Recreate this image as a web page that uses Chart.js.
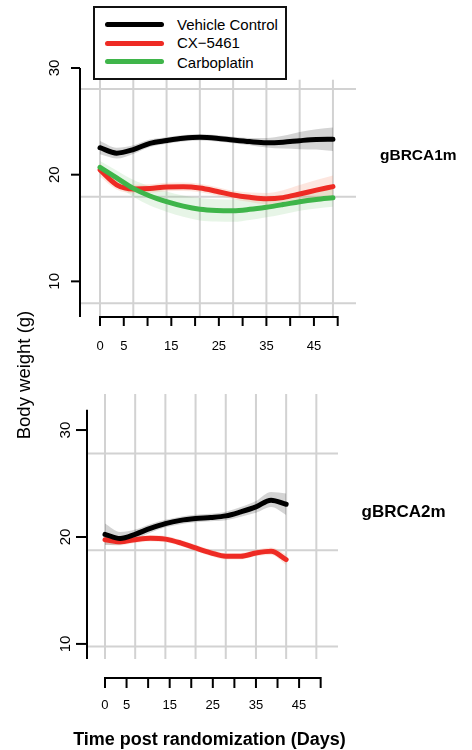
<!DOCTYPE html>
<html><head><meta charset="utf-8">
<script src="https://cdn.jsdelivr.net/npm/chart.js@4/dist/chart.umd.min.js"></script>
<style>
html,body{margin:0;padding:0;background:#fff;}
#wrap{position:relative;width:472px;height:750px;overflow:hidden;font-family:"Liberation Sans",Arial,sans-serif;color:#000;}
canvas{position:absolute;left:0;top:0;}
.t{position:absolute;white-space:nowrap;}
#legend{position:absolute;left:93px;top:6px;width:194px;height:74px;box-sizing:border-box;border:2px solid #111;background:#fff;}
.lg{position:absolute;left:105px;width:59px;height:5px;border-radius:3px;}
.lt{position:absolute;left:177px;font-size:15px;line-height:18px;}
</style></head><body>
<div id="wrap">
<canvas id="c1" width="472" height="750"></canvas>
<canvas id="c2" width="472" height="750"></canvas>
<div id="legend"></div>
<div class="lg" style="top:22px;background:#000"></div>
<div class="lg" style="top:40.5px;background:#ee2b24"></div>
<div class="lg" style="top:59px;background:#3fb54a"></div>
<div class="lt" style="top:16px">Vehicle Control</div>
<div class="lt" style="top:34px">CX−5461</div>
<div class="lt" style="top:53.5px">Carboplatin</div>
<div class="t" style="left:380px;top:145.7px;font-size:15.5px;line-height:18px;font-weight:bold">gBRCA1m</div>
<div class="t" style="left:361.5px;top:502px;font-size:17px;line-height:20px;font-weight:bold">gBRCA2m</div>
<div class="t" style="left:-76.5px;top:364px;width:200px;height:22px;line-height:22px;text-align:center;font-size:18.5px;transform:rotate(-90deg)">Body weight (g)</div>
<div class="t" style="left:0;width:419px;text-align:center;top:727.5px;font-size:18px;line-height:22px;font-weight:bold">Time post randomization (Days)</div>
</div>
<script>
// ---------- DATA ----------
const seriesNames = ['Vehicle Control', 'CX−5461', 'Carboplatin'];
const xTickValues = [0, 5, 10, 15, 20, 25, 30, 35, 40, 45, 50];
const xTickLabels = ['0', '5', '', '15', '', '25', '', '35', '', '45', ''];
const yTickValues = [10, 20, 30];
const gridDays = [0, 7, 14, 21, 28, 35, 42, 49];

// Panel 1: gBRCA1m
const daysA = [0, 3.5, 7, 10.5, 14, 17.5, 21, 24.5, 28, 31.5, 35, 38.5, 42, 45.5, 49];
const vehicleA   = [22.53, 22.02, 22.35, 22.94, 23.2, 23.41, 23.5, 23.42, 23.25, 23.1, 23.0, 23.05, 23.19, 23.3, 23.32];
const vehicleAHi = [23.15, 22.52, 22.75, 23.29, 23.5, 23.71, 23.8, 23.72, 23.55, 23.45, 23.45, 23.65, 24.0, 24.25, 24.42];
const vehicleALo = [21.91, 21.52, 21.95, 22.59, 22.9, 23.11, 23.2, 23.12, 22.95, 22.75, 22.55, 22.45, 22.39, 22.35, 22.22];
const cxA   = [20.44, 19.05, 18.66, 18.7, 18.85, 18.86, 18.75, 18.45, 18.1, 17.88, 17.74, 17.85, 18.19, 18.55, 18.88];
const cxAHi = [21.04, 19.5, 19.06, 19.1, 19.25, 19.26, 19.15, 18.85, 18.5, 18.33, 18.29, 18.55, 19.04, 19.5, 19.93];
const cxALo = [19.84, 18.6, 18.26, 18.3, 18.45, 18.46, 18.35, 18.05, 17.7, 17.43, 17.19, 17.15, 17.34, 17.6, 17.83];
const carboA   = [20.69, 19.7, 18.72, 18.0, 17.47, 17.05, 16.76, 16.65, 16.63, 16.75, 16.95, 17.2, 17.47, 17.68, 17.84];
const carboAHi = [21.29, 20.4, 19.52, 18.9, 18.42, 18.05, 17.81, 17.7, 17.68, 17.75, 17.9, 18.1, 18.32, 18.53, 18.69];
const carboALo = [20.09, 19.0, 17.92, 17.1, 16.52, 16.05, 15.71, 15.6, 15.58, 15.75, 16.0, 16.3, 16.62, 16.83, 16.99];
const hGridA = [28.04, 17.94, 7.95];

// Panel 2: gBRCA2m
const daysB = [0, 3.5, 7, 10.5, 14, 17.5, 21, 24.5, 28, 31.5, 35, 38.5, 42];
const vehicleB   = [20.25, 19.86, 20.25, 20.8, 21.25, 21.55, 21.72, 21.82, 21.97, 22.35, 22.81, 23.44, 23.06];
const vehicleBHi = [21.25, 20.46, 20.7, 21.2, 21.6, 21.9, 22.07, 22.17, 22.37, 22.8, 23.36, 24.2, 24.06];
const vehicleBLo = [19.25, 19.26, 19.8, 20.4, 20.9, 21.2, 21.37, 21.47, 21.57, 21.9, 22.26, 22.8, 22.06];
const cxB   = [19.75, 19.55, 19.75, 19.88, 19.8, 19.45, 18.97, 18.52, 18.19, 18.2, 18.5, 18.66, 17.88];
const cxBHi = [20.2, 19.9, 20.05, 20.18, 20.1, 19.75, 19.27, 18.82, 18.49, 18.5, 18.8, 19.01, 18.38];
const cxBLo = [19.3, 19.2, 19.45, 19.58, 19.5, 19.15, 18.67, 18.22, 17.89, 17.9, 18.2, 18.31, 17.38];
const hGridB = [27.8, 18.76, 9.75];

// ---------- STYLE ----------
const lineColors = ['#000000', '#ee2b24', '#3fb54a'];
const bandColors = ['rgba(0,0,0,0.17)', 'rgba(245,140,110,0.22)', 'rgba(110,195,110,0.17)'];
const FONT = '"Liberation Sans", Arial, sans-serif';

function pts(days, vals) { return days.map((d, i) => ({x: d, y: vals[i]})); }

function buildDatasets(days, groups) {
  const ds = [];
  groups.forEach((g, k) => {
    const base = ds.length;
    ds.push({label: seriesNames[g.s] + ' hi', data: pts(days, g.hi), borderWidth: 0, pointRadius: 0,
      fill: false, cubicInterpolationMode: 'monotone', order: 5});
    ds.push({label: seriesNames[g.s] + ' lo', data: pts(days, g.lo), borderWidth: 0, pointRadius: 0,
      fill: base, backgroundColor: bandColors[g.s], cubicInterpolationMode: 'monotone', order: 5});
    ds.push({label: seriesNames[g.s], data: pts(days, g.v), borderColor: lineColors[g.s], borderWidth: 5,
      borderCapStyle: 'round', borderJoinStyle: 'round', pointRadius: 0, fill: false,
      cubicInterpolationMode: 'monotone', order: g.order});
  });
  return ds;
}

function axesPlugin(o) {
  return {
    id: 'rAxes',
    beforeDatasetsDraw(chart) {
      const {ctx, chartArea: a} = chart, xs = chart.scales.x, ys = chart.scales.y;
      ctx.save();
      ctx.strokeStyle = '#d2d2d2'; ctx.lineWidth = 2;
      gridDays.forEach(d => {
        const px = xs.getPixelForValue(d);
        ctx.beginPath(); ctx.moveTo(px, ys.getPixelForValue(o.vGridTop)); ctx.lineTo(px, a.bottom); ctx.stroke();
      });
      o.hGrid.forEach(w => {
        const py = ys.getPixelForValue(w);
        ctx.beginPath(); ctx.moveTo(a.left, py); ctx.lineTo(a.right, py); ctx.stroke();
      });
      ctx.restore();
    },
    afterDatasetsDraw(chart) {
      const {ctx, chartArea: a} = chart, xs = chart.scales.x, ys = chart.scales.y;
      ctx.save();
      ctx.strokeStyle = '#000'; ctx.lineWidth = 2; ctx.lineCap = 'butt';
      // y axis
      ctx.beginPath(); ctx.moveTo(a.left, ys.getPixelForValue(o.yAxisTop)); ctx.lineTo(a.left, a.bottom); ctx.stroke();
      ctx.fillStyle = '#000';
      ctx.font = o.yFont + 'px ' + FONT; ctx.textAlign = 'center'; ctx.textBaseline = 'alphabetic';
      yTickValues.forEach(v => {
        const py = ys.getPixelForValue(v);
        ctx.beginPath(); ctx.moveTo(a.left - o.yTickLen, py); ctx.lineTo(a.left, py); ctx.stroke();
        ctx.save(); ctx.translate(o.yLabelX, py); ctx.rotate(-Math.PI / 2);
        ctx.fillText(String(v), 0, 0.358 * o.yFont); ctx.restore();
      });
      // x axis
      const ay = a.bottom + o.xAxisOffset;
      const x0 = xs.getPixelForValue(xTickValues[0]), x1 = xs.getPixelForValue(xTickValues[xTickValues.length - 1]);
      ctx.beginPath(); ctx.moveTo(x0, ay); ctx.lineTo(x1, ay); ctx.stroke();
      ctx.font = o.xFont + 'px ' + FONT;
      xTickValues.forEach((v, i) => {
        const px = xs.getPixelForValue(v);
        ctx.beginPath(); ctx.moveTo(px, ay - 1); ctx.lineTo(px, ay + o.xTickLen); ctx.stroke();
        if (xTickLabels[i]) ctx.fillText(xTickLabels[i], px, o.xLabelY + 0.358 * o.xFont);
      });
      ctx.restore();
    }
  };
}

function makePanel(id, datasets, sc, pad, o) {
  return new Chart(document.getElementById(id), {
    type: 'line',
    data: {datasets},
    options: {
      responsive: false, animation: false, devicePixelRatio: 1,
      layout: {padding: pad},
      events: [],
      plugins: {legend: {display: false}, tooltip: {enabled: false}, title: {display: false}},
      scales: {
        x: {type: 'linear', min: sc.xMin, max: sc.xMax, display: false},
        y: {type: 'linear', min: sc.yMin, max: sc.yMax, display: false}
      },
      elements: {line: {tension: 0.4}}
    },
    plugins: [axesPlugin(o)]
  });
}

makePanel('c1', buildDatasets(daysA, [
  {s: 0, v: vehicleA, hi: vehicleAHi, lo: vehicleALo, order: 1},
  {s: 1, v: cxA, hi: cxAHi, lo: cxALo, order: 3},
  {s: 2, v: carboA, hi: carboAHi, lo: carboALo, order: 2}
]), {xMin: -4.21, xMax: 53.85, yMin: 6.66, yMax: 30},
  {left: 80, right: 116, top: 68, bottom: 433},
  {hGrid: hGridA, vGridTop: 28.9, yAxisTop: 30, yTickLen: 9, yLabelX: 54, yFont: 15,
   xAxisOffset: 0, xTickLen: 9, xLabelY: 345, xFont: 13});

makePanel('c2', buildDatasets(daysB, [
  {s: 0, v: vehicleB, hi: vehicleBHi, lo: vehicleBLo, order: 1},
  {s: 1, v: cxB, hi: cxBHi, lo: cxBLo, order: 2}
]), {xMin: -4.17, xMax: 54.02, yMin: 8.59, yMax: 33.37},
  {left: 87, right: 134, top: 394, bottom: 91},
  {hGrid: hGridB, vGridTop: 33.37, yAxisTop: 31.9, yTickLen: 11, yLabelX: 65, yFont: 15,
   xAxisOffset: 19, xTickLen: 10, xLabelY: 704.5, xFont: 13});
</script>
</body></html>
